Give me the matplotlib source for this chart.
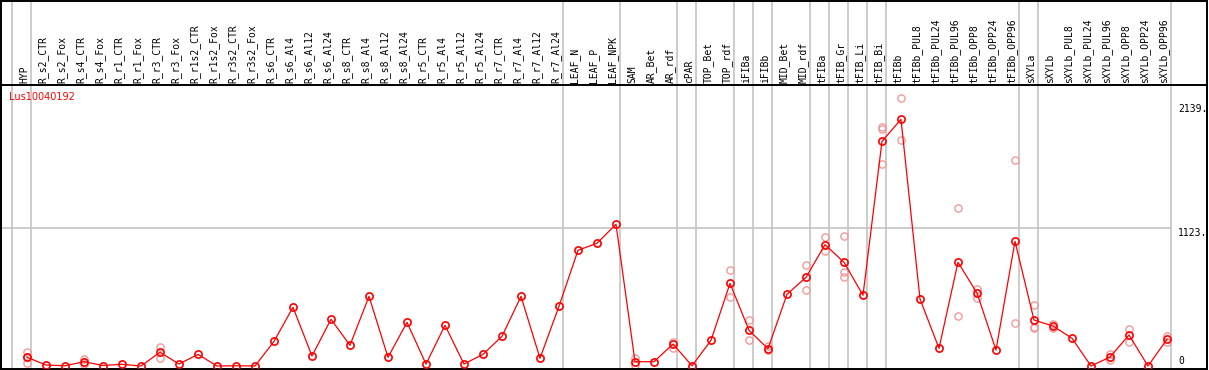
import matplotlib
matplotlib.use("Agg")
import matplotlib.pyplot as plt
from matplotlib.patches import Rectangle
from matplotlib.transforms import blended_transform_factory

gene_name = "Lus10040192"

categories = [
    "HYP", "R_s2_CTR", "R_s2_Fox", "R_s4_CTR", "R_s4_Fox", "R_r1_CTR", "R_r1_Fox",
    "R_r3_CTR", "R_r3_Fox", "R_r1s2_CTR", "R_r1s2_Fox", "R_r3s2_CTR", "R_r3s2_Fox",
    "R_s6_CTR", "R_s6_Al4", "R_s6_Al12", "R_s6_Al24", "R_s8_CTR", "R_s8_Al4",
    "R_s8_Al12", "R_s8_Al24", "R_r5_CTR", "R_r5_Al4", "R_r5_Al12", "R_r5_Al24",
    "R_r7_CTR", "R_r7_Al4", "R_r7_Al12", "R_r7_Al24", "LEAF_N", "LEAF_P", "LEAF_NPK",
    "SAM", "AR_Bet", "AR_rdf", "cPAR", "TOP_Bet", "TOP_rdf", "iFIBa", "iFIBb",
    "MID_Bet", "MID_rdf", "tFIBa", "tFIB_Gr", "tFIB_Li", "tFIB_Bi", "tFIBb",
    "tFIBb_PUL8", "tFIBb_PUL24", "tFIBb_PUL96", "tFIBb_OPP8", "tFIBb_OPP24",
    "tFIBb_OPP96", "sXYLa", "sXYLb", "sXYLb_PUL8", "sXYLb_PUL24", "sXYLb_PUL96",
    "sXYLb_OPP8", "sXYLb_OPP24", "sXYLb_OPP96",
]

mean_values = [
    71, 8, 2, 35, 4, 14, 0, 112, 16, 95, 0, 2, 0,
    201, 479, 82, 381, 169, 568, 71, 356, 16, 332, 16, 95,
    242, 568, 63, 487, 944, 1001, 1156,
    35, 35, 179, 2, 209, 674, 291, 141,
    585, 723, 990, 846, 577, 1833, 2012,
    546, 144, 846, 595, 130, 1017,
    375, 326, 226, 0, 73, 253, 0, 218,
]

replicate_values = {
    "HYP": [118, 75, 22],
    "R_s4_CTR": [58, 14],
    "R_r3_CTR": [157, 68],
    "SAM": [62, 8],
    "AR_rdf": [198, 150],
    "TOP_rdf": [780, 565],
    "iFIBa": [372, 209],
    "iFIBb": [166, 130],
    "MID_rdf": [821, 617],
    "tFIBa": [1052, 938],
    "tFIB_Gr": [1058, 767, 723],
    "tFIB_Bi": [1952, 1930, 1645],
    "tFIBb": [2183, 1841],
    "tFIBb_PUL96": [1286, 405],
    "tFIBb_OPP8": [631, 557],
    "tFIBb_OPP96": [1678, 348],
    "sXYLa": [495, 318, 312],
    "sXYLb": [345, 308],
    "sXYLb_PUL96": [98, 50],
    "sXYLb_OPP8": [299, 193],
    "sXYLb_OPP96": [245, 198],
}

# last category index of each group (-1 = before the first)
group_ends = ["", "HYP", "R_r7_Al24", "LEAF_NPK", "AR_rdf", "cPAR", "TOP_rdf",
              "iFIBa", "iFIBb", "MID_rdf", "tFIBa", "tFIB_Gr", "tFIB_Li",
              "tFIB_Bi", "tFIBb_OPP96", "sXYLa", "sXYLb_OPP96"]

y_tick_values = [0, 1123, 2139]
grid_value = 1123

W, H = 1209, 370
DPI = 100
fig = plt.figure(figsize=(W / DPI, H / DPI), dpi=DPI)

# pixel geometry
px_left, px_right, px_top, px_bot = 1, 1207, 85, 369
ax = fig.add_axes([px_left / W, (H - px_bot) / H, (px_right - px_left) / W,
                   (px_bot - px_top) / H])

x0_px, dx_px = 27.0, 19.0
xmin = (px_left - x0_px) / dx_px
xmax = (px_right - x0_px) / dx_px
y0_px, scale = 366.0, 0.1226
ymin = (y0_px - px_bot) / scale
ymax = (y0_px - px_top) / scale
ax.set_xlim(xmin, xmax)
ax.set_ylim(ymin, ymax)
ax.set_xticks([])
ax.set_yticks([])
for s in ax.spines.values():
    s.set_color("black")
    s.set_linewidth(1.4)

idx = {c: i for i, c in enumerate(categories)}
xs = list(range(len(categories)))

grey = "#c4c4c4"
last_sep = None
top_extent = px_bot / (px_bot - px_top)
for g in group_ends:
    i = idx[g] if g else -1
    xsep = i + 4.0 / dx_px
    last_sep = xsep
    ax.axvline(xsep, ymin=0, ymax=top_extent, color=grey, lw=1.2,
               clip_on=False, zorder=1)

ax.plot([xmin, last_sep], [grid_value, grid_value], color=grey, lw=1.2, zorder=1)

# replicates
rep_color = "#f09a9a"
for c, vals in replicate_values.items():
    ax.plot([idx[c]] * len(vals), vals, linestyle="none", marker="o",
            markersize=5.2, markerfacecolor="none", markeredgecolor=rep_color,
            markeredgewidth=1.0, zorder=2)

ax.plot(xs, mean_values, color="#ff0000", lw=0.9, marker="o", markersize=5.2,
        markerfacecolor="none", markeredgecolor="#ff0000", markeredgewidth=1.2,
        zorder=3)

# header labels
trans = blended_transform_factory(ax.transData, ax.transAxes)
for i, c in enumerate(categories):
    ax.text(i - 3.0 / dx_px, 1 + 2.0 / (px_bot - px_top), c, rotation=90,
            ha="center", va="bottom", fontsize=7.0, family="DejaVu Sans Mono",
            transform=trans, clip_on=False)

# title
fig.text(9 / W, 1 - 97 / H, gene_name, color="#ff0000", fontsize=7.0,
         family="DejaVu Sans", ha="left", va="center")

# y value labels
for v in y_tick_values:
    ypx = y0_px - v * scale
    if v == 0:
        fig.text(1178 / W, 1 - 366 / H, "0", fontsize=7.0,
                 family="DejaVu Sans Mono", ha="left", va="bottom")
    else:
        fig.text(1178 / W, 1 - ypx / H, f"{v}.", fontsize=7.0,
                 family="DejaVu Sans Mono", ha="left", va="top")

# outer frame
fig.patches.append(Rectangle((0.5 / W, 0.5 / H), (W - 2.5) / W, (H - 1.5) / H,
                             transform=fig.transFigure, fill=False,
                             edgecolor="black", lw=1.4, zorder=10))

fig.savefig("out.png", dpi=DPI)
